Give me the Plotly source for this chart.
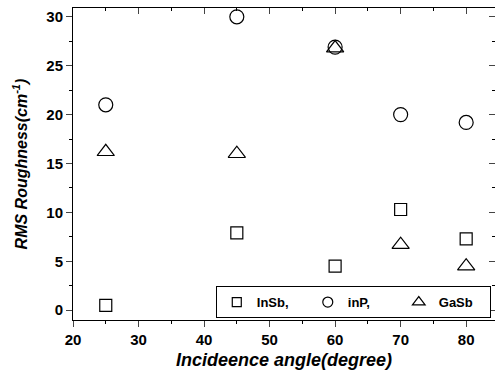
import plotly.graph_objects as go

angles = [25, 45, 60, 70, 80]
insb = [0.5, 7.9, 4.5, 10.3, 7.3]
inp = [21.0, 30.0, 26.9, 20.0, 19.2]
gasb = [16.2, 16.0, 26.8, 6.7, 4.5]
names = ["InSb,", "inP,", "GaSb"]
symbols = ["square-open", "circle-open", "triangle-up-open"]
sizes = [12, 14, 15]
legend_sizes = [9, 10, 11]

x_range = [20, 84.4]
y_range = [-1.0, 30.9]

fig = go.Figure()
for vals, name, sym, sz, lsz in zip([insb, inp, gasb], names, symbols, sizes, legend_sizes):
    fig.add_trace(go.Scatter(x=angles, y=vals, mode="markers", showlegend=False,
                             marker=dict(symbol=sym, size=sz, color="black", line=dict(width=1.2))))
    fig.add_trace(go.Scatter(x=[None], y=[None], mode="markers", name="<b>" + name + "</b>",
                             marker=dict(symbol=sym, size=lsz, color="black", line=dict(width=1.2))))

tickfont = dict(family="Arial, Liberation Sans", size=15, color="black")
fig.update_layout(
    width=495, height=376,
    margin=dict(l=73, r=0, t=8, b=56),
    paper_bgcolor="white", plot_bgcolor="white",
    font=dict(family="Arial, Liberation Sans", color="black"),
    xaxis=dict(range=x_range, dtick=10, tick0=20, ticks="outside", ticklen=6, tickwidth=1,
               showline=True, linecolor="black", linewidth=1, showgrid=False, zeroline=False,
               tickfont=tickfont, tickprefix="<b>", ticksuffix="</b>",
               minor=dict(dtick=5, ticks="outside", ticklen=3, tickcolor="black"),
               title=dict(text="<b><i>Incideence angle(degree)</i></b>", font=dict(size=18), standoff=6)),
    yaxis=dict(range=y_range, dtick=5, tick0=0, ticks="outside", ticklen=6, tickwidth=1,
               showline=True, linecolor="black", linewidth=1, showgrid=False, zeroline=False,
               tickfont=tickfont, tickprefix="<b>", ticksuffix="</b>",
               minor=dict(dtick=2.5, ticks="outside", ticklen=3, tickcolor="black"),
               title=dict(text="<b><i>RMS Roughness(cm<sup>-1</sup>)</i></b>", font=dict(size=16), standoff=14)),
    xaxis2=dict(range=x_range, overlaying="x", side="top", dtick=10, tick0=20, ticks="inside",
                ticklen=6, showticklabels=False, showline=True, linecolor="black", showgrid=False,
                zeroline=False, minor=dict(dtick=5, ticks="inside", ticklen=3, tickcolor="black")),
    yaxis2=dict(range=y_range, overlaying="y", side="right", dtick=5, tick0=0, ticks="inside",
                ticklen=6, showticklabels=False, showline=True, linecolor="black", showgrid=False,
                zeroline=False, minor=dict(dtick=2.5, ticks="inside", ticklen=3, tickcolor="black")),
    legend=dict(orientation="h", x=0.99, y=0.006, xanchor="right", yanchor="bottom",
                bordercolor="black", borderwidth=1, bgcolor="white",
                font=dict(size=13, family="Arial, Liberation Sans"), itemwidth=30,
                entrywidth=46, entrywidthmode="pixels",
                tracegroupgap=0, valign="middle"),
    showlegend=True,
)
fig.add_trace(go.Scatter(x=[None], y=[None], xaxis="x2", yaxis="y2", mode="markers",
                         showlegend=False, hoverinfo="skip"))
fig.write_html("out.html")
